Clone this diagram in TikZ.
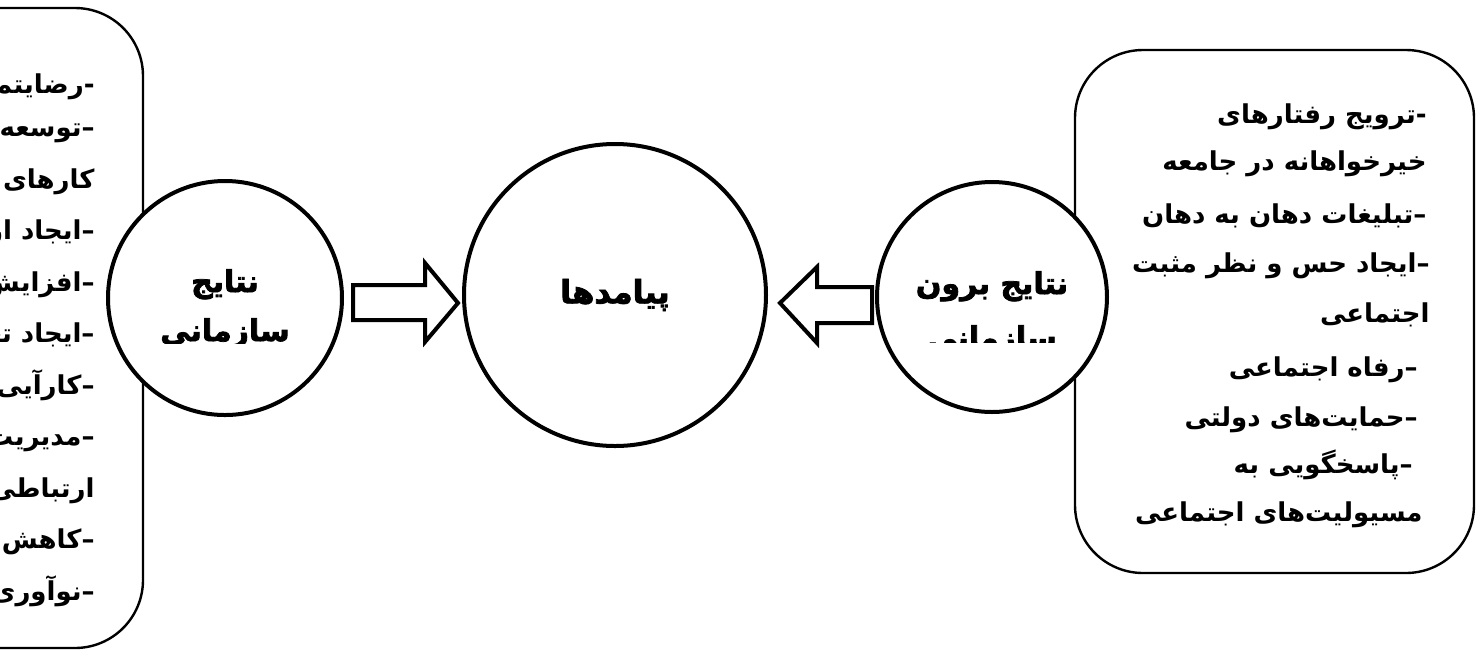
\documentclass[tikz,border=0pt]{standalone}
\usepackage{fontspec}
\newfontfamily\arabicfont[Script=Arabic]{DejaVu Sans}
\newfontfamily\titlefont[Script=Arabic, FakeBold=2.5]{DejaVu Sans Bold}
\TeXXeTstate=1
\usetikzlibrary{calc}

\newcommand{\fatext}[1]{\beginR #1\endR}

\tikzset{
  listbox/.style={draw, line width=1.2pt, rounded corners=34pt},
  topic/.style={circle, draw, line width=2pt, fill=white, inner sep=0pt},
  fatarrow/.style={draw, line width=2pt, fill=white, line join=miter},
  item/.style={anchor=base east, inner sep=0pt, font=\arabicfont\bfseries\fontsize{13}{15}\selectfont},
  title/.style={anchor=base, inner sep=0pt, font=\titlefont\fontsize{15}{18}\selectfont}
}

\begin{document}
\begin{tikzpicture}[x=0.5pt,y=-0.5pt]
\useasboundingbox (0,0) rectangle (1480,650);

% list boxes
\draw[listbox] (-400,8) rectangle (143,648);
\draw[listbox] (1075,50) rectangle (1474,573);

% left list
\path (95,93) node[item] (l1) {\fatext{-\kern0pt رضایتمندی کارکنان}}
    (95,136) node[item] (l2) {\fatext{–\kern0pt توسعه کمی و کیفی}}
    (95,188) node[item] (l3) {\fatext{کارهای باکیفیت}}
    (95,239) node[item] (l4) {\fatext{–\kern0pt ایجاد ارزش افزوده}}
    (95,291) node[item] (l5) {\fatext{–\kern0pt افزایش تعهد سازمانی}}
    (95,342) node[item] (l6) {\fatext{–\kern0pt ایجاد تعلق سازمانی}}
    (95,394) node[item] (l7) {\fatext{–\kern0pt کارآیی سازمانی}}
    (95,445) node[item] (l8) {\fatext{–\kern0pt مدیریت شبکه}}
    (95,497) node[item] (l9) {\fatext{ارتباطی بهتر}}
    (95,548) node[item] (l10) {\fatext{–\kern0pt کاهش مشکلات}}
    (95,600) node[item] (l11) {\fatext{–\kern0pt نوآوری}};

% right list
\path (1427,123) node[item] (r1) {\fatext{-\kern0pt ترویج رفتارهای}}
    (1427,170) node[item] (r2) {\fatext{خیرخواهانه در جامعه}}
    (1427,223) node[item] (r3) {\fatext{–\kern0pt تبلیغات دهان به دهان}}
    (1430,272) node[item] (r4) {\fatext{–\kern0pt ایجاد حس و نظر مثبت}}
    (1430,322) node[item] (r5) {\fatext{اجتماعی}}
    (1418,376) node[item] (r6) {\fatext{–\kern0pt رفاه اجتماعی}}
    (1418,426) node[item] (r7) {\fatext{–\kern0pt حمایت‌های دولتی}}
    (1413,473) node[item] (r8) {\fatext{–\kern0pt پاسخگویی به}}
    (1423,521) node[item] (r9) {\fatext{مسیولیت‌های اجتماعی}};

% circles
\node[topic, minimum size=117pt] (org) at (225,298) {};
\node[topic, minimum size=151pt, font=\titlefont\fontsize{16}{18}\selectfont] (out) at (615,295) {\fatext{پیامدها}};
\node[topic, minimum size=115pt] (ext) at (992,297) {};

\begin{scope}
  \clip (org.north west) rectangle ($(org.east)+(0,45)$);
  \node[title] (orgA) at (225,292) {\fatext{نتایج}};
  \node[title] (orgB) at (225,341) {\fatext{سازمانی}};
\end{scope}
\begin{scope}
  \clip (ext.north west) rectangle ($(ext.east)+(0,45)$);
  \node[title] (extA) at (992,294) {\fatext{نتایج برون}};
  \node[title] (extB) at (992,348) {\fatext{سازمانی}};
\end{scope}

% block arrows
\draw[fatarrow] ($(out.west)+(-4,8)$) -- ++(-33,-40) -- ++(0,22) -- ++(-72,0)
    -- ++(0,35) -- ++(72,0) -- ++(0,22) -- cycle;
\draw[fatarrow] ($(out.east)+(12,8)$) -- ++(37,-36) -- ++(0,20) -- ++(55,0)
    -- ++(0,36) -- ++(-55,0) -- ++(0,20) -- cycle;

\end{tikzpicture}
\end{document}
